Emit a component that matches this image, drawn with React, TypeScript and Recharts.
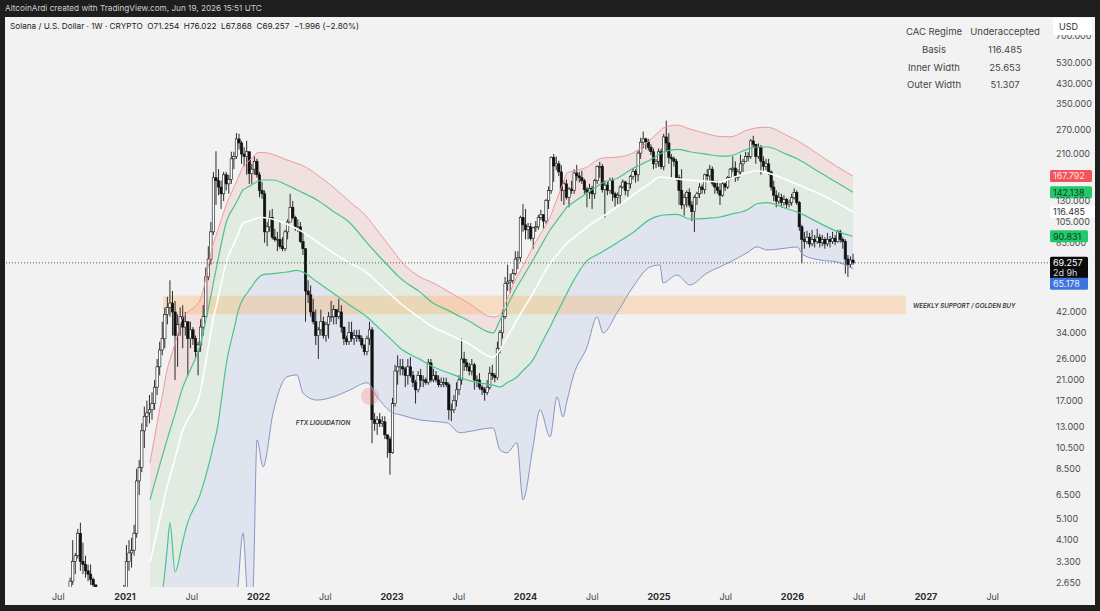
import React from "react";
import {
  ComposedChart,
  Bar,
  Line,
  Area,
  XAxis,
  YAxis,
  ReferenceLine,
  ReferenceArea,
  ReferenceDot,
} from "recharts";

// ====================
// WEEKLY CANDLES  (SOL / USD, 1W)
// ====================
const WEEK0 = 2020.589; // Mon 3 Aug 2020 as decimal year
const FIRST_OPEN = 2.0;

// closes, one per week, Aug 2020 -> Jun 2026
const weekClose = [
  // 2020
  2.7, 3.3, 3.5, 4.4, 3.3, 3.2, 3.0, 2.9, 2.75, 2.6, 2.5, 2.0, 1.6, 1.7, 2.1, 2.2, 1.9, 1.8, 1.6, 1.5, 1.5, 2.2,
  // 2021
  3.3, 3.6, 3.7, 4.4, 7.5, 8.6, 12.5, 14.5, 15.0, 15.5, 16.5, 19.5, 24, 28.5, 32, 41, 44, 46, 42, 33, 37, 40, 36, 38, 32, 35,
  32, 28, 30, 36, 40, 60, 72, 95, 165, 160, 150, 140, 170, 155, 162, 200, 205, 245, 235, 210, 205, 215, 172, 180, 195, 170,
  // 2022
  145, 140, 95, 100, 110, 90, 88, 88, 82, 80, 95, 105, 122, 110, 100, 100, 86, 80, 52, 50, 42, 38, 33, 35, 38, 33,
  37, 40, 40, 43, 40, 42, 36, 32, 31, 34, 32, 33, 33, 32, 30, 28, 32, 35, 14, 13.5, 14, 13.5, 13.7, 12, 11.5, 10,
  // 2023
  16.5, 23, 24, 24, 23.5, 22, 24, 22, 20.5, 19, 22, 21, 21, 20.5, 25, 21, 22, 21, 20, 20.5, 20.5, 20, 15.5, 15.5, 17, 19,
  21, 26, 25, 24, 23, 24.5, 21, 21, 19.5, 19, 18.5, 19.5, 22.5, 22, 21.5, 29, 34, 40, 56, 57, 58, 62, 72, 73, 110, 102,
  // 2024
  97, 100, 89, 99, 100, 110, 113, 106, 131, 145, 203, 186, 190, 175, 145, 155, 135, 147, 145, 173, 168, 165, 160, 146, 142, 148,
  140, 160, 185, 185, 146, 153, 145, 160, 140, 135, 138, 150, 158, 145, 155, 167, 176, 170, 212, 237, 245, 238, 225, 215, 190, 195,
  // 2025
  215, 185, 250, 235, 203, 200, 195, 165, 145, 125, 135, 142, 125, 117, 135, 140, 150, 146, 170, 168, 180, 156, 150, 145, 138, 155,
  150, 165, 180, 182, 165, 175, 190, 195, 205, 205, 240, 232, 205, 225, 195, 185, 190, 175, 150, 138, 130, 135, 128, 132, 126, 128,
  // 2026
  135, 142, 128, 100, 88, 86, 90, 84, 88, 86, 90, 85, 88, 84, 88, 86, 89, 86, 95, 88, 86, 72, 68, 71.254, 69.257,
];

const weekHigh = [
  // 2020
  2.8, 4.1, 3.6, 4.6, 4.9, 4.0, 3.5, 3.2, 3.2, 2.8, 2.6, 2.5, 2.0, 1.8, 2.3, 2.4, 2.3, 2.1, 1.9, 1.7, 1.7, 2.6,
  // 2021
  3.9, 4.1, 4.2, 4.8, 8.5, 9.3, 13.5, 16, 17, 18, 18.5, 21, 26, 31, 38, 44, 49, 58, 52, 47, 41, 44, 45, 42, 38, 38,
  36, 33, 31, 39, 45, 66, 82, 105, 175, 216, 180, 160, 175, 175, 170, 215, 215, 260, 258, 240, 225, 240, 215, 190, 205, 200,
  // 2022
  175, 158, 145, 105, 118, 120, 98, 95, 105, 90, 97, 108, 140, 130, 112, 108, 105, 95, 80, 58, 55, 48, 43, 36, 43, 40,
  38, 42, 47, 45, 43, 48, 45, 36, 33, 38, 38, 35, 35, 35, 33, 30, 33, 38, 36, 15, 14.5, 15, 14.5, 14.5, 12, 11.8,
  // 2023
  17.5, 24.5, 27, 26, 26, 24, 26, 26.5, 23, 21, 23, 23.5, 22, 21.5, 26, 26, 23.5, 23, 22, 21.5, 21.5, 21.5, 20.5, 16.5, 18, 20.5,
  22, 32, 28, 26, 25, 26, 25, 22, 22.5, 20, 19.5, 21, 24, 24.5, 22.5, 31, 35, 43, 60, 68, 62, 65, 78, 78, 112, 126,
  // 2024
  120, 104, 104, 100, 106, 113, 119, 114, 133, 151, 205, 210, 205, 196, 187, 160, 162, 150, 160, 180, 188, 175, 177, 163, 150, 155,
  152, 163, 187, 194, 190, 160, 158, 165, 165, 143, 142, 153, 162, 160, 156, 170, 182, 180, 217, 248, 264, 248, 245, 232, 222, 200,
  // 2025
  222, 222, 258, 295, 260, 210, 205, 200, 170, 180, 140, 145, 148, 130, 138, 143, 156, 154, 172, 180, 188, 185, 160, 160, 156, 158,
  157, 168, 182, 205, 195, 180, 209, 200, 215, 214, 245, 253, 232, 234, 230, 205, 200, 200, 178, 160, 145, 142, 140, 138, 134, 132,
  // 2026
  140, 148, 145, 130, 102, 95, 96, 94, 97, 92, 98, 93, 92, 90, 94, 91, 95, 92, 97, 97, 90, 88, 75, 74, 76.022,
];

const weekLow = [
  // 2020
  1.9, 2.6, 2.9, 3.4, 3.0, 2.9, 2.8, 2.7, 2.6, 2.5, 2.3, 1.9, 1.5, 1.4, 1.6, 2.0, 1.6, 1.7, 1.5, 1.4, 1.3, 1.5,
  // 2021
  2.0, 3.0, 3.1, 3.5, 4.2, 6.5, 8.2, 10.5, 13, 13.5, 14, 15.5, 18, 22, 27, 29, 37, 40, 33, 21, 24, 33, 29, 33, 22, 29,
  30, 26, 22, 28, 33, 40, 58, 68, 92, 125, 138, 120, 130, 145, 140, 155, 180, 200, 220, 190, 185, 170, 155, 155, 170, 165,
  // 2022
  135, 133, 85, 82, 95, 88, 86, 78, 80, 78, 78, 88, 105, 108, 96, 95, 85, 75, 38, 46, 40, 37, 30, 26, 33, 32,
  31, 32, 38, 37, 37, 39, 34, 30, 30, 30, 31, 30, 31, 31, 29, 27, 27, 30, 11, 12.5, 12, 13, 13, 11.5, 9.5, 8.0,
  // 2023
  9.9, 16, 20, 22, 22, 19.5, 20, 21.5, 19.5, 16.5, 18.5, 19.5, 19.5, 20, 20, 20.5, 20.5, 20.5, 19.5, 19.5, 19.5, 19.5, 14, 13.8, 15, 16,
  18, 20, 23, 23, 22, 22, 19, 19.5, 19, 18, 17, 18, 19, 21, 20.5, 21, 27.5, 32, 39, 52, 51, 56, 61, 65, 70, 95,
  // 2024
  88, 88, 87, 80, 95, 97, 107, 98, 103, 120, 140, 158, 178, 168, 130, 125, 132, 122, 140, 140, 160, 157, 155, 140, 122, 133,
  120, 133, 155, 165, 142, 110, 138, 140, 130, 123, 126, 125, 148, 138, 136, 148, 162, 157, 159, 200, 223, 220, 218, 208, 180, 182,
  // 2025
  184, 180, 178, 215, 190, 165, 185, 160, 125, 120, 112, 122, 122, 106, 95, 125, 134, 140, 140, 160, 160, 152, 140, 140, 125, 136,
  144, 147, 162, 175, 158, 160, 170, 175, 195, 195, 200, 225, 190, 200, 170, 175, 178, 170, 145, 130, 122, 126, 122, 124, 120, 122,
  // 2026
  124, 132, 125, 96, 69, 80, 84, 81, 82, 81, 84, 81, 82, 80, 82, 81, 84, 83, 85, 85, 80, 62, 60, 66, 67.868,
];

// ====================
// CAC BANDS  (sampled along the curves)
// ====================
const bandT = [
  2021.187, 2021.262, 2021.285, 2021.315, 2021.337, 2021.375, 2021.434, 2021.464, 2021.562, 2021.637,
  2021.659, 2021.689, 2021.764, 2021.824, 2021.846, 2021.884, 2021.914, 2021.936, 2021.959, 2021.989,
  2022.034, 2022.109, 2022.213, 2022.288, 2022.333, 2022.438, 2022.558, 2022.685, 2022.813, 2022.888,
  2023.007, 2023.06, 2023.21, 2023.307, 2023.412, 2023.509, 2023.562, 2023.757, 2023.809, 2023.861,
  2023.936, 2023.981, 2024.056, 2024.109, 2024.184, 2024.236, 2024.281, 2024.311, 2024.356, 2024.461,
  2024.536, 2024.581, 2024.685, 2024.805, 2024.933, 2025.007, 2025.03, 2025.135, 2025.232, 2025.36,
  2025.457, 2025.532, 2025.659, 2025.734, 2025.809, 2025.959, 2026.034, 2026.079, 2026.206, 2026.333,
  2026.453,
];

const outerUpper = [
  9.0, 15.8, 18.6, 23.3, 25.8, 30.5, 39.9, 41.6, 47.4, 73.0,
  83.2, 93.9, 127.6, 153.2, 164.2, 184.0, 191.8, 197.6, 203.7, 212.3,
  213.5, 209.2, 197.6, 190.7, 186.6, 170.1, 150.1, 128.8, 110.5, 96.8,
  78.4, 71.3, 60.0, 56.5, 52.1, 48.3, 46.4, 39.9, 40.7, 47.7,
  60.0, 67.2, 81.5, 92.4, 110.5, 133.0, 155.7, 173.2, 176.3, 184.0,
  197.4, 201.9, 203.3, 212.3, 242.3, 266.1, 273.7, 282.3, 271.0, 258.1,
  251.1, 250.3, 267.5, 274.3, 276.0, 253.7, 241.1, 232.6, 207.3, 184.9,
  167.792,
];

const innerUpper = [
  6.2, 8.9, 9.9, 11.4, 12.6, 14.9, 19.6, 21.6, 30.0, 47.4,
  55.3, 67.8, 107.2, 125.0, 132.3, 145.6, 149.2, 151.8, 154.6, 158.3,
  161.2, 161.2, 153.2, 145.6, 141.3, 131.5, 117.3, 104.0, 84.9, 75.8,
  63.9, 59.4, 51.4, 46.0, 42.9, 40.1, 38.7, 33.9, 38.7, 44.4,
  54.2, 60.0, 71.3, 81.0, 96.8, 106.7, 115.8, 122.4, 127.8, 141.3,
  150.9, 157.0, 163.7, 181.6, 197.6, 210.0, 213.9, 220.4, 215.0, 209.4,
  205.6, 206.2, 220.4, 225.6, 225.6, 209.2, 200.2, 193.8, 173.8, 157.0,
  142.138,
];

const basis = [
  3.26, 5.14, 5.88, 7.06, 7.88, 9.44, 12.62, 13.79, 18.41, 32.6,
  38.7, 46.0, 71.3, 86.2, 92.4, 104.0, 105.5, 106.7, 107.7, 109.3,
  110.0, 108.0, 102.6, 98.1, 94.7, 85.9, 76.7, 69.2, 62.5, 57.0,
  49.1, 46.0, 39.5, 36.0, 33.7, 31.7, 30.7, 26.5, 28.5, 32.3,
  38.7, 42.9, 50.9, 57.8, 69.2, 75.2, 80.9, 84.9, 89.0, 99.8,
  106.9, 111.3, 122.4, 138.1, 155.6, 166.2, 165.7, 163.0, 160.9, 159.2,
  157.9, 163.3, 173.2, 177.2, 173.8, 161.2, 154.3, 150.4, 139.8, 127.9,
  116.485,
];

const innerLower = [
  2.23, 2.23, 2.55, 3.7, 4.89, 2.97, 4.08, 4.79, 6.51, 9.3,
  10.6, 12.6, 25.8, 36.8, 42.1, 48.0, 50.8, 53.1, 55.4, 58.6,
  61.4, 62.1, 63.1, 64.1, 63.0, 57.1, 50.9, 45.0, 39.9, 36.3,
  31.2, 29.1, 25.9, 24.0, 22.7, 21.6, 21.0, 19.9, 19.55, 20.4,
  21.65, 23.1, 25.75, 29.6, 36.0, 41.6, 46.9, 50.9, 57.2, 70.9,
  75.2, 78.0, 84.9, 94.3, 107.9, 112.1, 112.8, 113.5, 108.3, 109.0,
  110.5, 113.5, 118.7, 126.5, 127.9, 120.3, 116.3, 113.3, 103.6, 95.5,
  90.831,
];

const outerLower = [
  1.82, 1.82, 1.82, 1.82, 1.82, 1.82, 1.82, 1.82, 1.82, 1.82,
  1.82, 1.82, 1.82, 1.82, 2.55, 4.42, 2.47, 2.01, 2.47, 11.4,
  8.66, 15.0, 21.65, 22.1, 18.4, 17.1, 17.66, 18.97, 20.4, 17.66,
  15.0, 14.73, 13.97, 13.77, 13.56, 12.25, 12.37, 12.88, 10.29, 9.99,
  11.06, 6.18, 10.6, 15.47, 11.75, 17.66, 14.4, 16.96, 21.65, 29.4,
  39.9, 33.9, 41.6, 54.2, 66.4, 67.8, 56.5, 61.2, 55.3, 62.5,
  66.5, 69.9, 76.7, 81.5, 79.0, 80.6, 81.5, 75.2, 71.3, 69.9,
  65.178,
];

// ====================
// AXES, TAGS, TEXT
// ====================
const xTicks = [2020.5, 2021, 2021.5, 2022, 2022.5, 2023, 2023.5, 2024, 2024.5, 2025, 2025.5, 2026, 2026.5, 2027, 2027.5];
const yTicks = [2.65, 3.3, 4.1, 5.1, 6.5, 8.5, 10.5, 13, 17, 21, 26, 34, 42, 105, 130, 210, 270, 350, 430, 530, 700];
// tick partly hidden behind the price tags, drawn in the tag layer
const hiddenTick = 85;

const lastClose = 69.257;
const supportZone = { from: 2021.285, to: 2026.85, low: 41, high: 49.5 };
const ftxMark = { t: 2022.835, price: 17.8 };
const ftxText = { t: 2022.483, price: 13.3 };

const statLabels = ["CAC Regime", "Basis", "Inner Width", "Outer Width"];
const statValues = ["Underaccepted", "116.485", "25.653", "51.307"];

const tagValues = [167.792, 142.138, 116.485, 90.831, 69.257, 65.178];
const tagStyles = [
  { bg: "#f2545b", fg: "#ffe4e6", w: 42 },
  { bg: "#22c96b", fg: "#063d1f", w: 42 },
  { bg: "#ffffff", fg: "#333333", w: 45 },
  { bg: "#22c96b", fg: "#063d1f", w: 38 },
  { bg: "#0b0b0b", fg: "#ffffff", w: 38, sub: "2d 9h" },
  { bg: "#3f74e0", fg: "#e6eeff", w: 38, dy: 15 },
];

const X_DOMAIN: [number, number] = [2020.101, 2027.914];
const Y_DOMAIN: [number, number] = [2.544, 849];

const candles = weekClose.map((close, i) => ({
  t: WEEK0 + (i * 7) / 365.25,
  open: i === 0 ? FIRST_OPEN : weekClose[i - 1],
  close,
  high: weekHigh[i],
  low: weekLow[i],
  range: [weekLow[i], weekHigh[i]],
}));

const bands = bandT.map((t, i) => ({
  t,
  ou: outerUpper[i],
  iu: innerUpper[i],
  b: basis[i],
  il: innerLower[i],
  ol: outerLower[i],
}));

const FONT = "Inter, 'Noto Sans', sans-serif";

// ---- candle drawn inside the [low, high] bar ----
const CandleShape = (props: any) => {
  const { x, y, width, height, payload } = props;
  if (!payload || !Number.isFinite(y) || !Number.isFinite(height)) return null;
  const top = Math.min(y, y + height);
  const bottom = Math.max(y, y + height);
  const lnH = Math.log(payload.high);
  const span = lnH - Math.log(payload.low) || 1;
  const py = (p: number) => top + ((lnH - Math.log(p)) / span) * (bottom - top);
  const cx = x + width / 2;
  const up = payload.close >= payload.open;
  const bTop = py(Math.max(payload.open, payload.close));
  const bBot = py(Math.min(payload.open, payload.close));
  return (
    <g>
      <line x1={cx} x2={cx} y1={top} y2={bottom} stroke="#151515" strokeWidth={0.9} />
      <rect
        x={cx - 1.2}
        y={bTop}
        width={2.4}
        height={Math.max(bBot - bTop, 0.8)}
        fill={up ? "#ffffff" : "#111111"}
        stroke="#111111"
        strokeWidth={0.6}
      />
    </g>
  );
};

const XTick = (props: any) => {
  const { x, y, payload } = props;
  const v = payload.value;
  const isYear = Math.abs(v - Math.round(v)) < 1e-6;
  return (
    <text x={x} y={y + 5} textAnchor="middle" fontSize={9} fontWeight={isYear ? 700 : 400} fill={isYear ? "#2a2a2a" : "#444"} fontFamily={FONT}>
      {isYear ? String(Math.round(v)) : "Jul"}
    </text>
  );
};

const YTick = (props: any) => {
  const { x, y, payload } = props;
  return (
    <text x={x} y={y + 3.2} textAnchor="start" fontSize={9} fill="#4a4a4a" fontFamily={FONT}>
      {Number(payload.value).toFixed(3)}
    </text>
  );
};

const HiddenTickLabel = (props: any) => {
  const vb = props && props.viewBox;
  if (!vb) return null;
  return (
    <text x={vb.x + vb.width + 8} y={vb.y + 3.2} fontSize={9} fill="#4a4a4a" fontFamily={FONT}>
      {hiddenTick.toFixed(3)}
    </text>
  );
};

const makeTag = (value: number, st: any) => (props: any) => {
  const vb = props && props.viewBox;
  if (!vb) return null;
  const x = vb.x + vb.width + 2;
  const y = vb.y + (st.dy || 0);
  const h = st.sub ? 22 : 12;
  return (
    <g>
      <rect x={x} y={y - 6} width={st.w} height={h} fill={st.bg} rx={1.5} />
      <text x={x + 3} y={y + 3.3} fontSize={9} fill={st.fg} fontFamily={FONT}>
        {value.toFixed(3)}
      </text>
      {st.sub && (
        <text x={x + 3} y={y + 13.5} fontSize={9} fill="#d8d8d8" fontFamily={FONT}>
          {st.sub}
        </text>
      )}
    </g>
  );
};

const ZoneLabel = (props: any) => {
  const vb = props && props.viewBox;
  if (!vb) return null;
  return (
    <text x={vb.x + vb.width + 7} y={vb.y + vb.height / 2 + 2.5} fontSize={6.2} fontStyle="italic" fontWeight={600} fill="#3a3a3a" fontFamily={FONT}>
      WEEKLY SUPPORT / GOLDEN BUY
    </text>
  );
};

const FtxText = (props: any) => (
  <text x={props.cx} y={props.cy} textAnchor="middle" fontSize={6.3} fontStyle="italic" fontWeight={600} fill="#3a3a3a" fontFamily={FONT}>
    FTX LIQUIDATION
  </text>
);

export default function App() {
  return (
    <div style={{ position: "absolute", left: 0, top: 0, width: 1100, height: 611, background: "#1e1e1e", fontFamily: FONT, overflow: "hidden" }}>
      <div style={{ position: "absolute", left: 5, top: 17, width: 1090, height: 588, background: "#f2f2f2" }} />

      <div style={{ position: "absolute", left: 0, top: 0 }}>
        <ComposedChart
          width={1100}
          height={611}
          data={candles}
          margin={{ top: 17, right: 5, bottom: 6, left: 5 }}
          style={{ fontFamily: FONT }}
        >
          <XAxis
            dataKey="t"
            type="number"
            domain={X_DOMAIN}
            allowDataOverflow
            ticks={xTicks}
            interval={0}
            axisLine={false}
            tickLine={false}
            height={18}
            tick={<XTick />}
          />
          <YAxis
            orientation="right"
            scale="log"
            domain={Y_DOMAIN}
            allowDataOverflow
            ticks={yTicks}
            interval={0}
            axisLine={false}
            tickLine={false}
            width={47}
            tick={<YTick />}
          />

          {/* band fills */}
          <Area data={bands} dataKey={(d: any) => [d.iu, d.ou]} type="monotone" stroke="none" fill="#ef5350" fillOpacity={0.11} isAnimationActive={false} />
          <Area data={bands} dataKey={(d: any) => [d.il, d.iu]} type="monotone" stroke="none" fill="#4caf50" fillOpacity={0.1} isAnimationActive={false} />
          <Area data={bands} dataKey={(d: any) => [d.ol, d.il]} type="monotone" stroke="none" fill="#3f6bd8" fillOpacity={0.1} isAnimationActive={false} />

          <ReferenceArea
            x1={supportZone.from}
            x2={supportZone.to}
            y1={supportZone.low}
            y2={supportZone.high}
            fill="#ffa94d"
            fillOpacity={0.28}
            stroke="none"
            label={<ZoneLabel />}
          />

          {/* band lines */}
          <Line data={bands} dataKey="ou" type="monotone" stroke="#ef9a9a" strokeWidth={1} dot={false} isAnimationActive={false} />
          <Line data={bands} dataKey="iu" type="monotone" stroke="#4cc38a" strokeWidth={1.2} dot={false} isAnimationActive={false} />
          <Line data={bands} dataKey="b" type="monotone" stroke="#ffffff" strokeWidth={1.6} dot={false} isAnimationActive={false} />
          <Line data={bands} dataKey="il" type="monotone" stroke="#4cc38a" strokeWidth={1.2} dot={false} isAnimationActive={false} />
          <Line data={bands} dataKey="ol" type="monotone" stroke="#8a93c7" strokeWidth={1} dot={false} isAnimationActive={false} />

          <ReferenceDot x={ftxMark.t} y={ftxMark.price} r={9} fill="#f28b8b" fillOpacity={0.35} stroke="none" />
          <ReferenceDot x={ftxText.t} y={ftxText.price} r={0} shape={<FtxText />} />

          <Bar dataKey="range" barSize={2} isAnimationActive={false} shape={<CandleShape />} />

          <ReferenceLine y={lastClose} stroke="#5a5a5a" strokeDasharray="1 2" strokeWidth={1} />

          <ReferenceLine y={hiddenTick} stroke="none" label={HiddenTickLabel} />
          {tagValues.map((v, i) => (
            <ReferenceLine key={v} y={v} stroke="none" label={makeTag(v, tagStyles[i])} />
          ))}
        </ComposedChart>
      </div>

      {/* header */}
      <div style={{ position: "absolute", left: 5, top: 3, fontSize: 8.2, color: "#cfcfcf", whiteSpace: "pre" }}>
        AltcoinArdi created with TradingView.com, Jun 19, 2026 15:51 UTC
      </div>
      <div style={{ position: "absolute", left: 10, top: 21, fontSize: 8.2, color: "#222", whiteSpace: "pre" }}>
        {"Solana / U.S. Dollar · 1W · CRYPTO  O71.254  H76.022  L67.868  C69.257  −1.996 (−2.80%)"}
      </div>

      {/* stats table */}
      {statLabels.map((label, i) => (
        <React.Fragment key={label}>
          <div style={{ position: "absolute", left: 894, top: 26 + i * 17.8, width: 80, textAlign: "center", fontSize: 9.5, color: "#444" }}>{label}</div>
          <div style={{ position: "absolute", left: 965, top: 26 + i * 17.8, width: 80, textAlign: "center", fontSize: 9.5, color: "#444" }}>{statValues[i]}</div>
        </React.Fragment>
      ))}

      <div style={{ position: "absolute", left: 1053, top: 18, width: 39, height: 17, background: "#ffffff", fontSize: 9, color: "#333", lineHeight: "17px", paddingLeft: 6, boxSizing: "border-box" }}>
        USD
      </div>
    </div>
  );
}
